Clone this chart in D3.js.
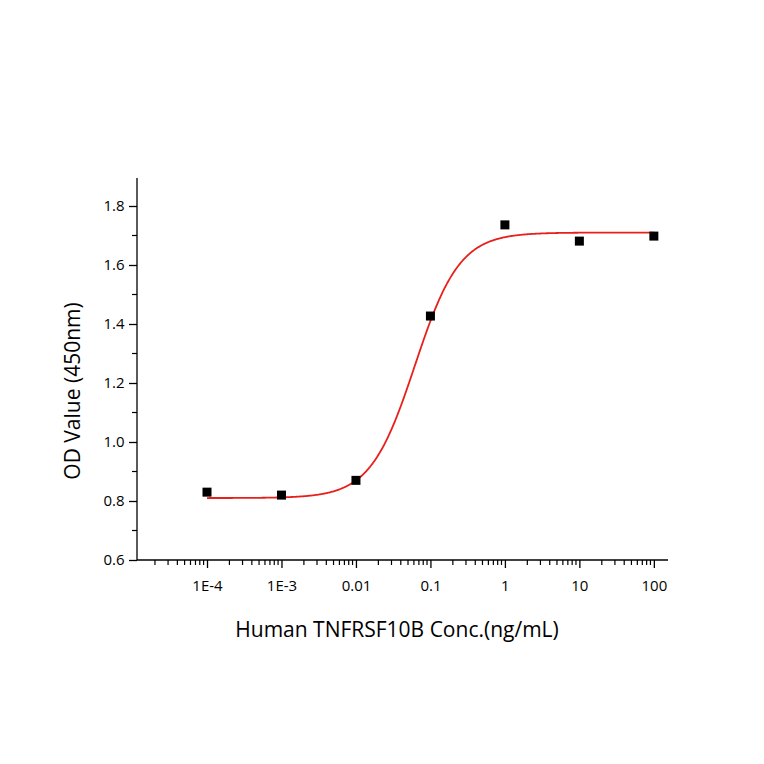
<!DOCTYPE html><html><head><meta charset="utf-8"><script src="https://cdn.jsdelivr.net/npm/d3@7"></script>
<style>body{margin:0;background:#fff}</style></head><body><svg id="c" width="764" height="764"></svg>
<script>
const conc=[1e-4,1e-3,0.01,0.1,1,10,100];
const od=[0.83,0.82,0.87,1.427,1.736,1.681,1.698];
const xTickVals=[1e-4,1e-3,0.01,0.1,1,10,100];
const xTickLabels=["1E-4","1E-3","0.01","0.1","1","10","100"];
const yTicks=[0.6,0.8,1.0,1.2,1.4,1.6,1.8];
const fit={bottom:0.81,top:1.71,ec50:0.062,hill:1.45};
const svg=d3.select("#c");
const x=d3.scaleLog().domain([Math.pow(10,-4.94),Math.pow(10,2.19)]).range([137,668]);
const y=d3.scaleLinear().domain([0.6,1.8]).range([560,206]);
const yTop=178;
const f="'Open Sans', sans-serif";
const minors=[];
for(let e=-5;e<=2;e++)for(let k=2;k<=9;k++){const v=k*Math.pow(10,e);if(v>=x.domain()[0]&&v<=x.domain()[1])minors.push(v);}
svg.append("g").selectAll("line").data(minors).join("line").attr("x1",d=>x(d)).attr("x2",d=>x(d)).attr("y1",560).attr("y2",565).attr("stroke","#000").attr("stroke-width",1.2);
const xa=svg.append("g").attr("transform","translate(0,560)").call(d3.axisBottom(x).tickValues(xTickVals).tickFormat((d,i)=>xTickLabels[i]).tickSize(8).tickSizeOuter(0));
xa.select(".domain").attr("d","M137,0H668");
xa.selectAll("text").attr("font-size",15).attr("font-family",f).attr("dy","1.3em");
const ya=svg.append("g").attr("transform","translate(137,0)").call(d3.axisLeft(y).tickValues(yTicks).tickFormat(d3.format(".1f")).tickSize(8).tickSizeOuter(0));
ya.select(".domain").attr("d",`M0,${yTop}V560`);
ya.selectAll("text").attr("font-size",15).attr("font-family",f).attr("dx","-0.1em");
const ym=[0.7,0.9,1.1,1.3,1.5,1.7];
svg.append("g").selectAll("line").data(ym).join("line").attr("x1",132).attr("x2",137).attr("y1",d=>y(d)).attr("y2",d=>y(d)).attr("stroke","#000").attr("stroke-width",1.2);
svg.selectAll(".domain,.tick line").attr("stroke-width",1.3);
const pts=d3.range(0,601).map(i=>{const lx=-4+6*i/600,c=Math.pow(10,lx);return [c,fit.bottom+(fit.top-fit.bottom)/(1+Math.pow(fit.ec50/c,fit.hill))];});
svg.append("path").attr("d",d3.line().x(d=>x(d[0])).y(d=>y(d[1]))(pts)).attr("fill","none").attr("stroke","#e8201c").attr("stroke-width",1.8);
svg.append("g").selectAll("rect").data(conc).join("rect").attr("x",d=>x(d)-4.5).attr("y",(d,i)=>y(od[i])-4.5).attr("width",9).attr("height",9).attr("fill","#000");
svg.append("text").attr("x",397).attr("y",637).attr("text-anchor","middle").attr("font-size",21).attr("font-family",f).text("Human TNFRSF10B Conc.(ng/mL)");
svg.append("text").attr("transform","translate(80,391) rotate(-90)").attr("text-anchor","middle").attr("font-size",21).attr("font-family",f).text("OD Value (450nm)");
</script></body></html>
